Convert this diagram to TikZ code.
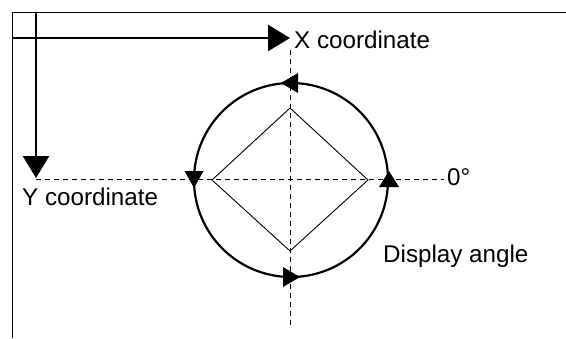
\documentclass[tikz,border=0pt]{standalone}
\usepackage{fontspec}
\setmainfont{Liberation Sans}
\usetikzlibrary{arrows.meta}
\tikzset{
  border/.style={line width=1pt},
  axis/.style={line width=2.6pt,-{Triangle[length=22pt,width=26pt]}},
  guide/.style={line width=1pt,dash pattern=on 5pt off 4pt},
  ring/.style={line width=2.2pt},
  rhomb/.style={line width=0.9pt},
  cirhead/.style={fill=black},
  lbl/.style={inner sep=0pt,anchor=base west,font=\fontsize{24.2}{29}\selectfont}
}
\begin{document}
\begin{tikzpicture}[x=1pt,y=-1pt]
\useasboundingbox (0,0) rectangle (566,338);
% frame
\coordinate (corner) at (12,12);
\draw[border] (566,12) -- (corner) -- (12,338);
% axes
\coordinate (xs) at (12,38);
\coordinate (xe) at (290,38);
\coordinate (ys) at (36,12);
\coordinate (ye) at (36,178);
\draw[axis] (xs) -- (xe);
\draw[axis] (ys) -- (ye);
% guides
\coordinate (vt) at (290,50);
\coordinate (vb) at (290,326);
\coordinate (hl) at (36,179);
\coordinate (hr) at (444,179);
\draw[guide] (vt) -- (vb);
\draw[guide] (hl) -- (hr);
% circle
\coordinate (c) at (291,180);
\draw[ring] (c) circle[radius=97];
% diamond
\coordinate (dt) at (290,108);
\coordinate (dl) at (212,180);
\coordinate (db) at (290,251);
\coordinate (dr) at (368,180);
\draw[rhomb] (dt) -- (dl) -- (db) -- (dr) -- cycle;
% arrowheads on the circle
\fill[cirhead] (281,83) -- (298,73) -- (298,93) -- cycle;       % top, pointing left
\fill[cirhead] (194,188) -- (184.5,171) -- (203.5,171) -- cycle; % left, pointing down
\fill[cirhead] (300,277) -- (283,267) -- (283,287) -- cycle;    % bottom, pointing right
\fill[cirhead] (389,171) -- (379,187) -- (399,187) -- cycle;    % right, pointing up
% labels
\node[lbl] (xl) at (294,48) {X coordinate};
\node[lbl] (yl) at (22,205) {Y coordinate};
\node[lbl] (zl) at (447,185) {0°};
\node[lbl] (al) at (383,262) {Display angle};
\end{tikzpicture}
\end{document}
